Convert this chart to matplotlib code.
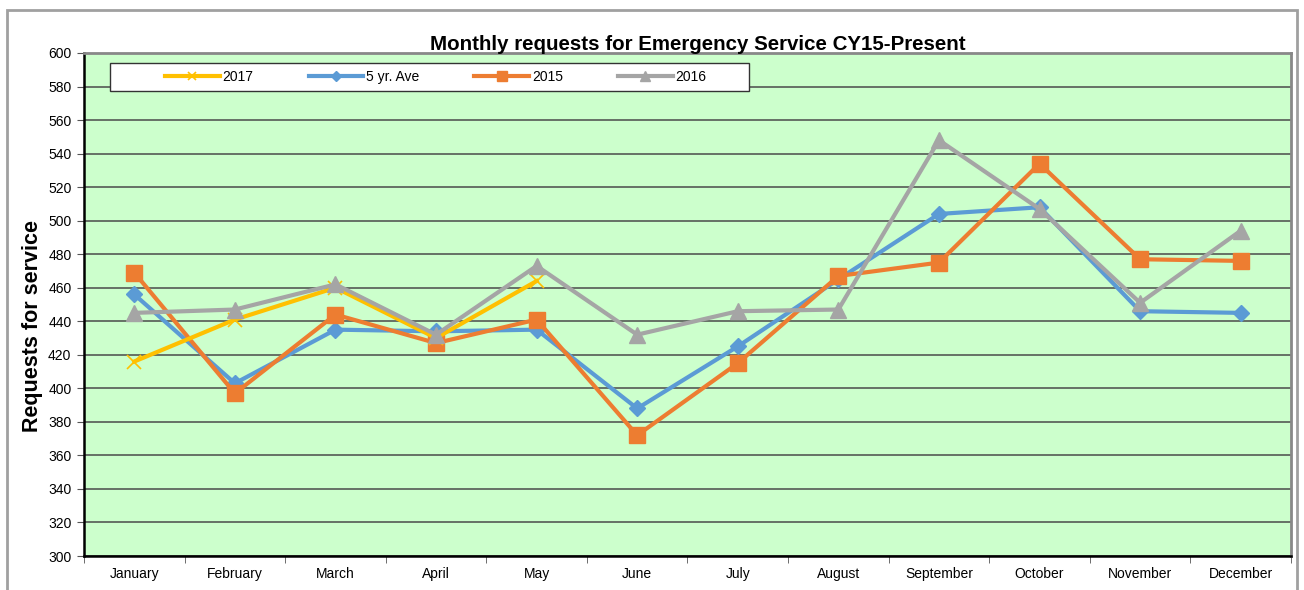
import matplotlib
matplotlib.use('Agg')
from matplotlib import pyplot as plt
from matplotlib.patches import Rectangle

plt.rcParams['font.family'] = ['Liberation Sans', 'DejaVu Sans']

months = ['January', 'February', 'March', 'April', 'May', 'June', 'July',
          'August', 'September', 'October', 'November', 'December']
y2017 = [416, 441, 460, 430, 464]
ave5 = [456, 403, 435, 434, 435, 388, 425, 465, 504, 508, 446, 445]
y2015 = [469, 397, 444, 427, 441, 372, 415, 467, 475, 534, 477, 476]
y2016 = [445, 447, 462, 432, 473, 432, 446, 447, 548, 507, 451, 494]

W, H = 1304, 590
fig = plt.figure(figsize=(W / 100, H / 100), dpi=100)
fig.patch.set_facecolor('white')
# outer chart frame
fig.patches.append(Rectangle((7 / W, -0.05), 1290 / W, 1.05 - 10 / H,
                             transform=fig.transFigure, fill=False,
                             edgecolor='#a0a0a0', linewidth=2))

ax = fig.add_axes([84 / W, 1 - 556 / H, 1207 / W, 503 / H])
ax.set_facecolor('#CCFFCC')

x = list(range(len(months)))
lw = 3
l5, = ax.plot(x, ave5, color='#5B9BD5', lw=lw, marker='D', ms=8,
              label='5 yr. Ave', zorder=3)
l15, = ax.plot(x, y2015, color='#ED7D31', lw=lw, marker='s', ms=11,
               label='2015', zorder=4)
l17, = ax.plot(x[:len(y2017)], y2017, color='#FFC000', lw=lw, marker='x',
               ms=10, mew=1.2, label='2017', zorder=5)
l16, = ax.plot(x, y2016, color='#A5A5A5', lw=lw, marker='^', ms=11,
               label='2016', zorder=6)

ax.set_xlim(-0.5, 11.5)
ax.set_ylim(300, 600)
ax.set_yticks(range(300, 601, 20))
ax.set_xticks(x)
ax.set_xticklabels(months)
ax.set_xticks([i - 0.5 for i in range(13)], minor=True)
ax.tick_params(axis='x', which='major', length=0, pad=8, labelsize=10)
ax.tick_params(axis='x', which='minor', length=5, color='#555555')
ax.tick_params(axis='y', length=5, color='#555555', labelsize=10, pad=4)
ax.grid(axis='y', color='#4a4a4a', linewidth=1.1, zorder=1)
ax.set_axisbelow(True)

for s in ['top', 'right']:
    ax.spines[s].set_color('#888888')
    ax.spines[s].set_linewidth(2)
ax.spines['left'].set_color('black')
ax.spines['left'].set_linewidth(1.8)
ax.spines['bottom'].set_color('black')
ax.spines['bottom'].set_linewidth(1.8)

fig.text(33 / W, 1 - 326 / H, 'Requests for service', rotation=90,
         ha='center', va='center', fontsize=15.5, fontweight='bold')
fig.text(698 / W, 1 - 45 / H,
         'Monthly requests for Emergency Service CY15-Present',
         ha='center', va='center', fontsize=14.8, fontweight='bold')

# legend box drawn by hand, entries placed inside it
fig.patches.append(Rectangle((110 / W, 1 - 91 / H), 639 / W, 28 / H,
                             transform=fig.transFigure, facecolor='white',
                             edgecolor='#333333', linewidth=1, zorder=10))
leg = fig.legend(handles=[l17, l5, l15, l16], ncol=4,
                 loc='center left', bbox_to_anchor=(165 / W, 1 - 77 / H),
                 frameon=False, fontsize=10, borderpad=0, borderaxespad=0,
                 handlelength=3.95, columnspacing=3.95, handletextpad=0.2,
                 markerscale=0.6)
leg.set_zorder(11)

fig.savefig('out.png', dpi=100)
